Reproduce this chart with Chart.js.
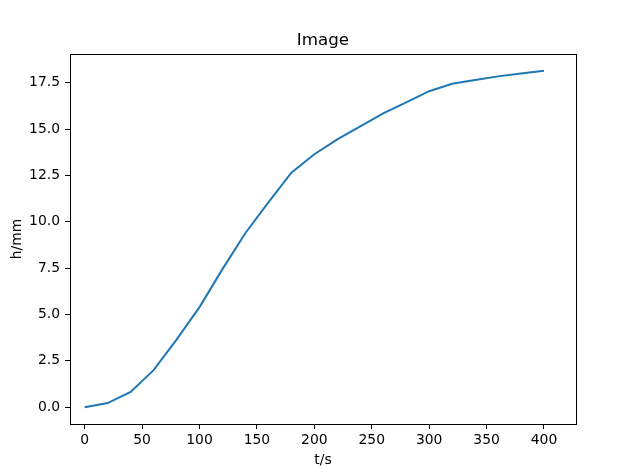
<!DOCTYPE html>
<html>
<head>
<meta charset="utf-8">
<script src="https://cdn.jsdelivr.net/npm/chart.js@4"></script>
<style>
  html, body { margin: 0; padding: 0; background: #fff; }
</style>
</head>
<body>
<canvas id="chart" width="640" height="476"></canvas>
<script>
// time (s) and height (mm)
const times = [0, 20, 40, 60, 80, 100, 120, 140, 160, 180, 200, 220, 240, 260, 280, 300, 320, 340, 360, 380, 400];
const heights = [0, 0.22, 0.82, 2.0, 3.65, 5.4, 7.45, 9.4, 11.05, 12.65, 13.65, 14.45, 15.15, 15.85, 16.45, 17.05, 17.45, 17.65, 17.85, 18.0, 18.15];
const xTicks = [0, 50, 100, 150, 200, 250, 300, 350, 400];
const yTicks = [0, 2.5, 5, 7.5, 10, 12.5, 15, 17.5];

const font = "'DejaVu Sans', sans-serif";
const xMin = -12.8;
const xMax = 427.9;

// full box around the plot, like matplotlib spines
const frame = {
  id: "frame",
  afterDraw(chart) {
    const { ctx, chartArea: a } = chart;
    ctx.save();
    ctx.strokeStyle = "#000";
    ctx.lineWidth = 1;
    ctx.strokeRect(Math.round(a.left) + 0.5, Math.round(a.top) + 0.5,
      Math.round(a.right - a.left), Math.round(a.bottom - a.top));
    ctx.restore();
  },
};

const points = times.map((t, i) => ({ x: t, y: heights[i] }));

new Chart(document.getElementById("chart"), {
  type: "line",
  data: {
    datasets: [
      {
        data: points,
        borderColor: "#1f77b4",
        borderWidth: 2,
        pointRadius: 0,
        tension: 0,
        fill: false,
      },
    ],
  },
  options: {
    responsive: false,
    animation: false,
    layout: { padding: { left: 0, right: 64, top: 0, bottom: 0 } },
    plugins: {
      legend: { display: false },
      tooltip: { enabled: false },
      title: { display: false },
    },
    scales: {
      x: {
        type: "linear",
        min: xMin,
        max: xMax,
        afterBuildTicks: (s) => { s.ticks = xTicks.map((v) => ({ value: v })); },
        afterFit: (s) => { s.height = 52; },
        ticks: {
          color: "#000",
          font: { family: font, size: 13.9 },
          padding: 3,
          maxRotation: 0,
          callback: (v) => String(v),
        },
        grid: { drawOnChartArea: false, color: "#000", tickLength: 5 },
        border: { color: "#000" },
        title: {
          display: true,
          text: "t/s",
          color: "#000",
          font: { family: font, size: 13.9 },
          padding: { top: 0, bottom: 7 },
        },
      },
      // top axis only carries the title, so it is centred over the plot
      top: {
        type: "linear",
        position: "top",
        min: xMin,
        max: xMax,
        afterFit: (s) => { s.height = 54; },
        ticks: { display: false },
        grid: { display: false },
        border: { display: false },
        title: {
          display: true,
          text: "Image",
          color: "#000",
          font: { family: font, size: 16.7 },
          padding: { top: 31, bottom: 0 },
        },
      },
      y: {
        min: -0.9075,
        max: 19.0575,
        afterBuildTicks: (s) => { s.ticks = yTicks.map((v) => ({ value: v })); },
        afterFit: (s) => { s.width = 70; },
        ticks: {
          color: "#000",
          font: { family: font, size: 13.9 },
          padding: 5,
          callback: (v) => v.toFixed(1),
        },
        grid: { drawOnChartArea: false, color: "#000", tickLength: 5 },
        border: { color: "#000" },
        title: {
          display: true,
          text: "h/mm",
          color: "#000",
          font: { family: font, size: 13.9 },
          padding: { top: 9, bottom: 0 },
        },
      },
    },
  },
  plugins: [frame],
});
</script>
</body>
</html>
